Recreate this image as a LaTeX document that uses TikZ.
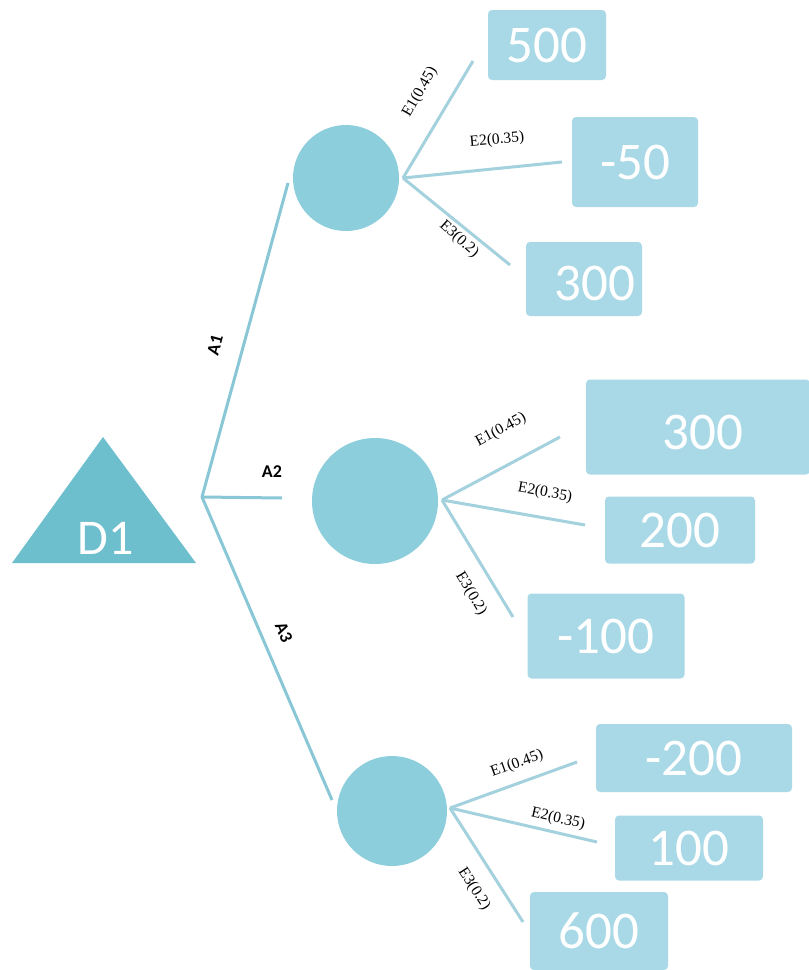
\documentclass[tikz,border=0pt]{standalone}
\usepackage{fontspec}
\setmainfont{Carlito}
\newfontfamily\labelfont{Liberation Serif}
\begin{document}
\begin{tikzpicture}[x=1pt,y=-1pt,
  branchline/.style={draw=lineblue, line width=3pt},
  actline/.style={draw=actblue, line width=3pt, line join=round},
  chance/.style={circle, fill=chanceblue, inner sep=0pt},
  valbox/.style={rectangle, rounded corners=4pt, fill=boxblue, text=white,
    font=\fontsize{53}{53}\selectfont, inner sep=0pt},
  valtext/.style={text=white, font=\fontsize{53}{53}\selectfont, inner sep=0pt},
  problabel/.style={font=\labelfont\fontsize{15.5}{15.5}\selectfont, inner sep=0pt},
  actlabel/.style={font=\bfseries\fontsize{18}{18}\selectfont, inner sep=0pt}]
\definecolor{decisionblue}{HTML}{6DBFCD}
\definecolor{chanceblue}{HTML}{8DCEDC}
\definecolor{boxblue}{HTML}{A9D9E6}
\definecolor{lineblue}{HTML}{A3D1DD}
\definecolor{actblue}{HTML}{8AC7D6}
\useasboundingbox (0,0) rectangle (809,970);

% decision node
\fill[decisionblue] (12,563) -- (103,437) -- (196,563) -- cycle;
\node[text=white, font=\fontsize{50}{50}\selectfont, inner sep=0pt] (d1) at (106,538) {D1};
\coordinate (j) at (202,497);

% chance nodes
\node[chance, minimum size=106pt] (c1) at (346,178) {};
\node[chance, minimum size=126pt] (c2) at (375,501) {};
\node[chance, minimum size=110pt] (c3) at (392,811) {};

% action branches
\coordinate (a1) at (288,183);
\coordinate (a2) at (282,498);
\coordinate (a3) at (332,800);
\draw[actline] (a1) -- (j) -- (a3);
\draw[actline] (j) -- (a2);
\node[actlabel, rotate=75] at (215,345) {A1};
\node[actlabel] at (272,472) {A2};
\node[actlabel, rotate=-67] at (284,632) {A3};

% outcomes of the first chance node
\coordinate (o1) at (403,178);
\coordinate (e11) at (473,61);
\coordinate (e12) at (562,162);
\coordinate (e13) at (510,265);
\draw[branchline] (o1) -- (e11);
\draw[branchline] (o1) -- (e12);
\draw[branchline] (o1) -- (e13);
\node[problabel, rotate=60] at (420,92) {E1(0.45)};
\node[problabel, rotate=5] at (497,140) {E2(0.35)};
\node[problabel, rotate=-42] at (459,239) {E3(0.2)};
\node[valbox, minimum width=118pt, minimum height=70pt] (v11) at (547,45) {500};
\node[valbox, minimum width=126pt, minimum height=90pt] (v12) at (635,162) {-50};
\node[valbox, minimum width=116pt, minimum height=74pt] (v13) at (584,279) {};
\node[valtext] (t13) at (595,283) {300};

% outcomes of the second chance node
\coordinate (o2) at (442,500);
\coordinate (e21) at (560,437);
\coordinate (e22) at (585,525);
\coordinate (e23) at (513,617);
\draw[branchline] (o2) -- (e21);
\draw[branchline] (o2) -- (e22);
\draw[branchline] (o2) -- (e23);
\node[problabel, rotate=28] at (501,430) {E1(0.45)};
\node[problabel, rotate=-10] at (545,493) {E2(0.35)};
\node[problabel, rotate=-59] at (471,594) {E3(0.2)};
\node[valbox, minimum width=224pt, minimum height=95pt] (v21) at (698,427) {};
\node[valtext] (t21) at (703,432) {300};
\node[valbox, minimum width=150pt, minimum height=67pt] (v22) at (680,530) {200};
\node[valbox, minimum width=157pt, minimum height=85pt] (v23) at (606,636) {-100};

% outcomes of the third chance node
\coordinate (o3) at (450,808);
\coordinate (e31) at (577,762);
\coordinate (e32) at (597,842);
\coordinate (e33) at (523,922);
\draw[branchline] (o3) -- (e31);
\draw[branchline] (o3) -- (e32);
\draw[branchline] (o3) -- (e33);
\node[problabel, rotate=20] at (517,764) {E1(0.45)};
\node[problabel, rotate=-13] at (558,819) {E2(0.35)};
\node[problabel, rotate=-57] at (474,889) {E3(0.2)};
\node[valbox, minimum width=196pt, minimum height=68pt] (v31) at (694,758) {-200};
\node[valbox, minimum width=148pt, minimum height=65pt] (v32) at (689,848) {100};
\node[valbox, minimum width=138pt, minimum height=78pt] (v33) at (599,931) {600};
\end{tikzpicture}
\end{document}
